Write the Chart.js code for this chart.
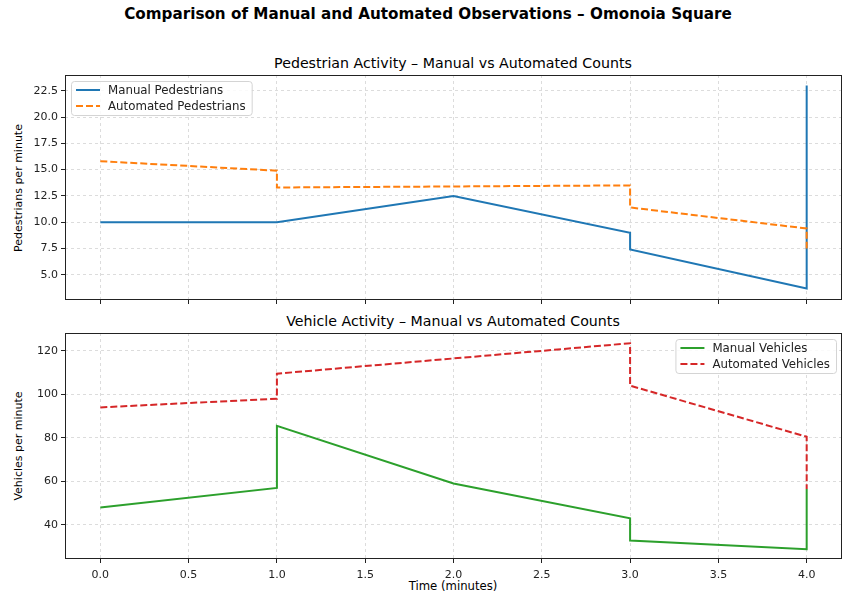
<!DOCTYPE html>
<html>
<head>
<meta charset="utf-8">
<script src="https://cdn.jsdelivr.net/npm/chart.js@4.4.0/dist/chart.umd.min.js"></script>
<style>
  body { margin: 0; width: 842px; height: 595px; position: relative; overflow: hidden; background: #fff;
         font-family: "DejaVu Sans", sans-serif; color: #000; }
  .txt { position: absolute; white-space: nowrap; text-align: center; }
  .ylab { position: absolute; white-space: nowrap; transform: translate(-50%, -50%) rotate(-90deg); }
  canvas { position: absolute; left: 0; }
</style>
</head>
<body>
<div class="txt" style="left:0;width:856px;top:5px;font-size:15.2px;font-weight:bold;">Comparison of Manual and Automated Observations – Omonoia Square</div>
<div class="txt" style="left:0;width:906px;top:55px;font-size:14.2px;">Pedestrian Activity – Manual vs Automated Counts</div>
<div class="txt" style="left:0;width:906px;top:313px;font-size:14.2px;">Vehicle Activity – Manual vs Automated Counts</div>
<div class="ylab" style="left:18px;top:188px;font-size:11px;">Pedestrians per minute</div>
<div class="ylab" style="left:18px;top:446px;font-size:11px;">Vehicles per minute</div>
<div class="txt" style="left:0;width:906px;top:579px;font-size:11.7px;">Time (minutes)</div>

<canvas id="pedChart" width="842" height="262" style="top:50px"></canvas>
<canvas id="vehChart" width="842" height="285" style="top:310px"></canvas>

<script>
// values
const timeMin = [0, 1, 1, 2, 3, 3, 4, 4];
const manualPed = [10.0, 10.0, 10.0, 12.5, 9.0, 7.4, 3.7, 23.0];
const autoPed = [15.8, 14.9, 13.3, 13.4, 13.5, 11.4, 9.4, 7.5];
const manualVeh = [48, 57, 85.5, 59, 43, 32.8, 28.8, 56.5];
const autoVeh = [94, 98, 109.5, 116.5, 123.5, 104, 80.5, 56.5];

const xTicks = [0, 0.5, 1, 1.5, 2, 2.5, 3, 3.5, 4];
const pedTicks = [5, 7.5, 10, 12.5, 15, 17.5, 20, 22.5];
const vehTicks = [40, 60, 80, 100, 120];

const toPoints = (ys) => timeMin.map((t, i) => ({ x: t, y: ys[i] }));

// matplotlib-style box around the axes
const spines = {
  id: "spines",
  afterDraw(chart) {
    const { ctx, chartArea: a } = chart;
    ctx.save();
    ctx.strokeStyle = "#222";
    ctx.lineWidth = 1;
    ctx.strokeRect(Math.round(a.left) + 0.5, Math.round(a.top) + 0.5,
      Math.round(a.right - a.left) - 1, Math.round(a.bottom - a.top) - 1);
    ctx.restore();
  }
};

// legend drawn inside the plot area
const boxLegend = {
  id: "boxLegend",
  afterDraw(chart, args, opts) {
    const { ctx, chartArea: a } = chart;
    const items = chart.data.datasets;
    ctx.save();
    ctx.font = opts.font;
    const textW = Math.max(...items.map((d) => ctx.measureText(d.label).width));
    const w = 37 + textW + 6;
    const h = items.length * 16 + 2;
    const x = opts.corner === "left" ? a.left + opts.inset : a.right - opts.inset - w;
    const y = a.top + opts.inset;
    ctx.beginPath();
    ctx.roundRect(x + 0.5, y + 0.5, w, h, 3);
    ctx.fillStyle = "rgba(255,255,255,0.85)";
    ctx.fill();
    ctx.strokeStyle = "#d4d4d4";
    ctx.lineWidth = 1;
    ctx.stroke();
    items.forEach((d, i) => {
      const cy = y + 1 + 16 * (i + 0.5);
      ctx.beginPath();
      ctx.setLineDash(d.borderDash || []);
      ctx.strokeStyle = d.borderColor;
      ctx.lineWidth = d.borderWidth;
      ctx.moveTo(x + 5, cy);
      ctx.lineTo(x + 29, cy);
      ctx.stroke();
      ctx.setLineDash([]);
      ctx.fillStyle = "#222";
      ctx.textBaseline = "middle";
      ctx.fillText(d.label, x + 37, cy + 0.5);
    });
    ctx.restore();
  }
};

function makeChart(id, cfg) {
  return new Chart(document.getElementById(id), {
    type: "line",
    data: {
      datasets: [
        { label: cfg.names[0], data: toPoints(cfg.manual), borderColor: cfg.colors[0],
          borderWidth: 2, pointRadius: 0, tension: 0, order: 1 },
        { label: cfg.names[1], data: toPoints(cfg.auto), borderColor: cfg.colors[1],
          borderWidth: 2, borderDash: [7, 3], pointRadius: 0, tension: 0, order: 0 }
      ]
    },
    options: {
      responsive: false,
      animation: false,
      devicePixelRatio: 1,
      layout: { padding: { left: 0, right: 0, top: cfg.padTop, bottom: 0 } },
      plugins: {
        legend: { display: false },
        tooltip: { enabled: false },
        boxLegend: { corner: cfg.corner, inset: cfg.inset, font: "11.8px 'DejaVu Sans'" }
      },
      scales: {
        x: {
          type: "linear", min: -0.2, max: 4.2,
          afterBuildTicks: (s) => { s.ticks = xTicks.map((v) => ({ value: v })); },
          afterFit: (s) => { s.height = cfg.xAxisH; },
          ticks: { display: cfg.showX, padding: 6, color: "#222",
                   font: { family: "DejaVu Sans", size: 11 },
                   callback: (v) => v.toFixed(1) },
          grid: { color: "#dcdcdc", tickColor: "#222", tickLength: 4, tickWidth: 1 },
          border: { display: false, dash: [3, 3] }
        },
        y: {
          min: cfg.yMin, max: cfg.yMax,
          afterBuildTicks: (s) => { s.ticks = cfg.yTicks.map((v) => ({ value: v })); },
          afterFit: (s) => { s.width = 65; },
          ticks: { padding: 3, color: "#222", font: { family: "DejaVu Sans", size: 11 },
                   callback: cfg.fmt },
          grid: { color: "#dcdcdc", tickColor: "#222", tickLength: 4, tickWidth: 1 },
          border: { display: false, dash: [3, 3] }
        }
      }
    },
    plugins: [spines, boxLegend]
  });
}

makeChart("pedChart", {
  names: ["Manual Pedestrians", "Automated Pedestrians"],
  colors: ["#1f77b4", "#ff7f0e"],
  manual: manualPed, auto: autoPed,
  yTicks: pedTicks, yMin: 2.6, yMax: 24.0, fmt: (v) => v.toFixed(1),
  padTop: 25, xAxisH: 12, showX: false, corner: "left", inset: 6
});

makeChart("vehChart", {
  names: ["Manual Vehicles", "Automated Vehicles"],
  colors: ["#2ca02c", "#d62728"],
  manual: manualVeh, auto: autoVeh,
  yTicks: vehTicks, yMin: 24.3, yMax: 128.2, fmt: (v) => String(v),
  padTop: 23, xAxisH: 36, showX: true, corner: "right", inset: 6
});
</script>
</body>
</html>
